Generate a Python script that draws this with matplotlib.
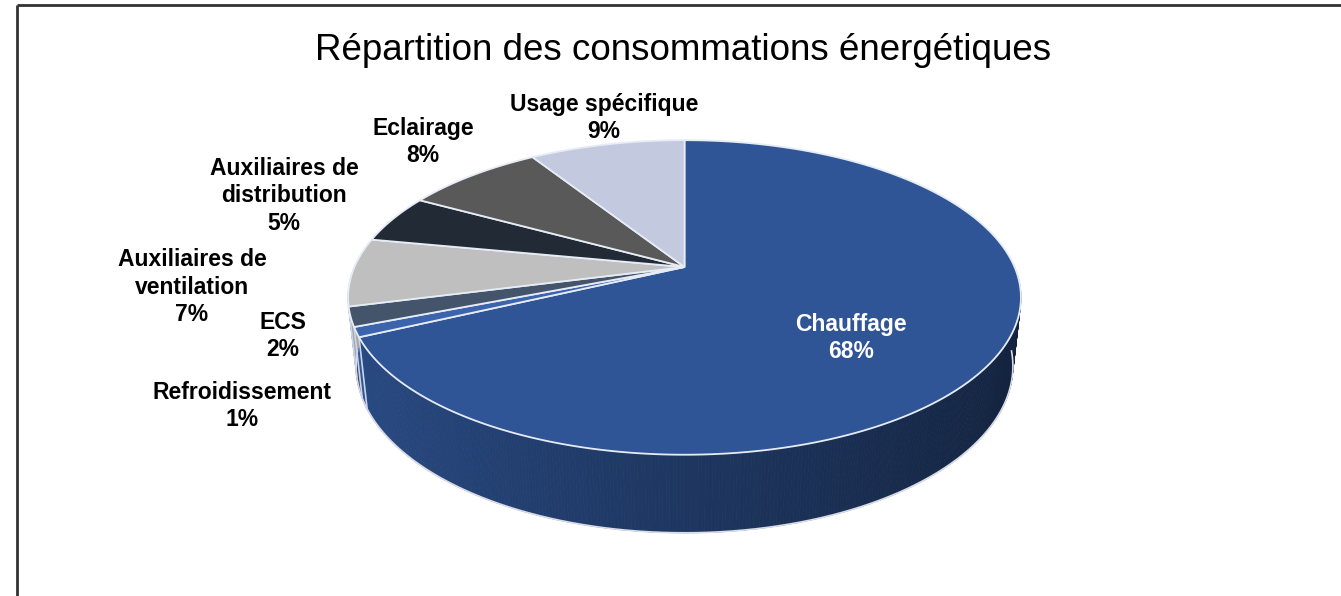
import numpy as np
import matplotlib.pyplot as plt
from matplotlib.collections import PolyCollection
from matplotlib.colors import to_rgb

# Energy consumption breakdown
labels = ["Chauffage", "Refroidissement", "ECS", "Auxiliaires de\nventilation",
          "Auxiliaires de\ndistribution", "Eclairage", "Usage spécifique"]
shares = [68, 1, 2, 7, 5, 8, 9]
colors = ["#2F5597", "#3B64AD", "#44546A", "#BFBFBF", "#222A35", "#595959", "#C3CADF"]

# where each label sits (pixels) and its text colour
label_pos = [(851, 338), (242, 406), (283, 336), (192, 287), (284, 196), (423, 142), (604, 118)]
label_colors = ["white"] + ["black"] * 6

W, H = 1341, 596
plt.rcParams['font.family'] = ['Liberation Sans', 'DejaVu Sans']
fig = plt.figure(figsize=(W / 100, H / 100), dpi=100)
ax = fig.add_axes([0, 0, 1, 1])
ax.set_xlim(0, W)
ax.set_ylim(H, 0)
ax.axis('off')

# perspective camera for the 3D pie
elev = np.radians(27.3)
dist = 4.59
focal = 1515
thick = 0.236
cx, cy = 684.5, 267


def project(theta, z=0.0):
    x = np.sin(theta)
    y = np.cos(theta)
    d = dist + y * np.cos(elev) - z * np.sin(elev)
    px = cx + focal * x / d
    py = cy - focal * (y * np.sin(elev) + z * np.cos(elev)) / d
    return px, py


fracs = np.array(shares) / np.sum(shares)
bounds = np.concatenate([[0], np.cumsum(fracs)]) * 2 * np.pi

# side walls, shaded darker towards the right
quads, qcols = [], []
for i in range(len(shares)):
    t = np.linspace(bounds[i], bounds[i + 1], max(4, int(fracs[i] * 720)))
    base = np.array(to_rgb(colors[i]))
    for t0, t1 in zip(t[:-1], t[1:]):
        tm = 0.5 * (t0 + t1)
        if np.cos(tm) > 0.02:
            continue
        x0, y0 = project(t0)
        x1, y1 = project(t1)
        x2, y2 = project(t1, -thick)
        x3, y3 = project(t0, -thick)
        shade = 0.64 - 0.24 * np.sin(tm)
        quads.append([(x0, y0), (x1, y1), (x2, y2), (x3, y3)])
        qcols.append(np.clip(base * shade, 0, 1))
ax.add_collection(PolyCollection(quads, facecolors=qcols, edgecolors=qcols, linewidths=0.6))

# bottom rim and wall seams
tb = np.linspace(np.pi / 2 + 0.1, 3 * np.pi / 2 - 0.1, 400)
bx, by = project(tb, -thick)
ax.plot(bx, by, color='#d9dde6', lw=1.2, zorder=2)
for b in bounds[1:-1]:
    if np.cos(b) < -0.2:
        px, py = project(np.array([b, b]), np.array([0, -thick]))
        ax.plot(px, py, color='#c8d4ea', lw=1.2, zorder=2)

# top faces
for i in range(len(shares)):
    t = np.linspace(bounds[i], bounds[i + 1], max(3, int(fracs[i] * 720)))
    px, py = project(t)
    xs = np.concatenate([[cx], px])
    ys = np.concatenate([[cy], py])
    ax.fill(xs, ys, facecolor=colors[i], edgecolor='#e6ecf6', lw=1.3, zorder=3)

for lab, s, (lx, ly), tc in zip(labels, shares, label_pos, label_colors):
    ax.text(lx, ly, f"{lab}\n{s}%", ha='center', va='center', multialignment='center',
            fontsize=16.5, fontweight='bold', color=tc, linespacing=1.25, zorder=5)

ax.text(683, 50, "Répartition des consommations énergétiques", ha='center', va='center',
        fontsize=26.5, color='black', zorder=5)

# chart frame (top and left edges)
ax.plot([17, W], [5, 5], color='#333333', lw=2, zorder=6, solid_capstyle='butt')
ax.plot([17, 17], [5, H], color='#333333', lw=2, zorder=6, solid_capstyle='butt')

fig.savefig("out.png", dpi=100)
